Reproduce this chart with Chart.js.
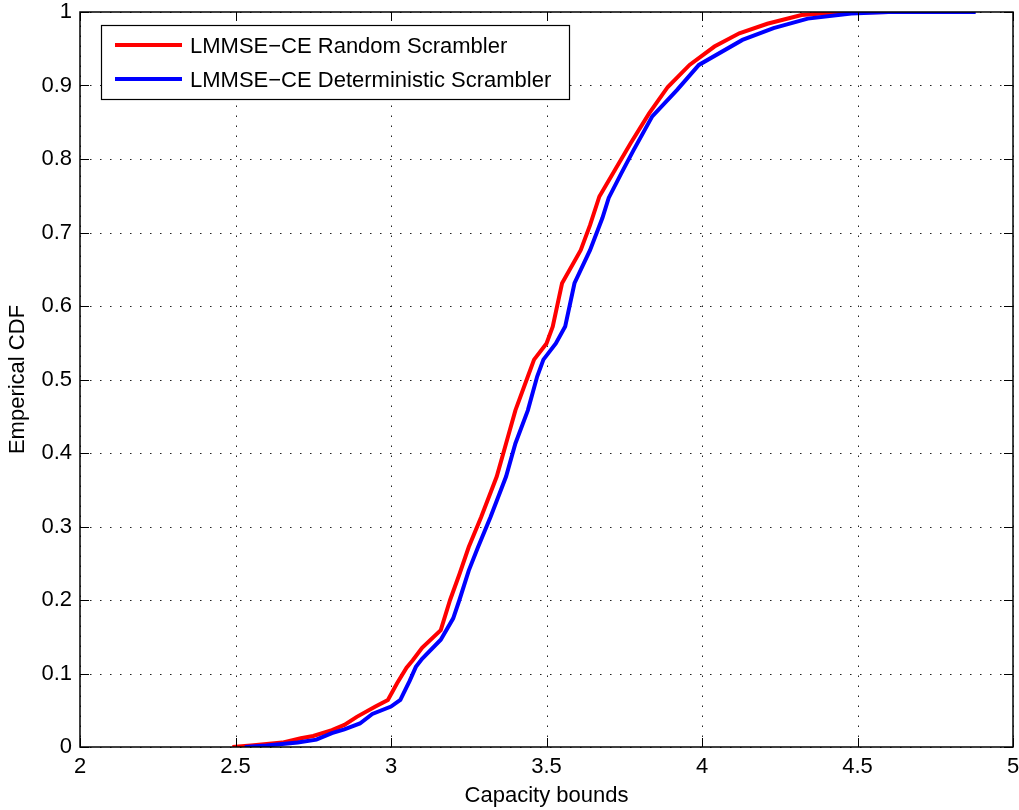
<!DOCTYPE html>
<html>
<head>
<meta charset="utf-8">
<script src="https://cdn.jsdelivr.net/npm/chart.js@4"></script>
<style>
    html, body { margin: 0; padding: 0; background: #fff; }
    #wrap { width: 1019px; height: 810px; }
</style>
</head>
<body>
<div id="wrap"><canvas id="cdfChart" width="1019" height="810"></canvas></div>
<script>
// values
const randomCap = [2.49, 2.55, 2.65, 2.71, 2.75, 2.81, 2.85, 2.89, 2.95, 2.99, 3.02, 3.05, 3.07, 3.1, 3.16, 3.19, 3.22, 3.25, 3.29, 3.34, 3.37, 3.4, 3.44, 3.46, 3.5, 3.52, 3.55, 3.61, 3.64, 3.67, 3.72, 3.77, 3.83, 3.89, 3.96, 4.04, 4.12, 4.21, 4.32, 4.42, 4.6, 4.87];
const randomCdf = [0, 0.002, 0.006, 0.012, 0.015, 0.023, 0.03, 0.041, 0.055, 0.064, 0.087, 0.108, 0.118, 0.135, 0.159, 0.2, 0.235, 0.272, 0.313, 0.368, 0.413, 0.458, 0.504, 0.527, 0.549, 0.572, 0.631, 0.676, 0.71, 0.749, 0.785, 0.821, 0.862, 0.898, 0.928, 0.953, 0.971, 0.984, 0.996, 0.999, 1, 1];

const determCap = [2.53, 2.6, 2.7, 2.76, 2.81, 2.85, 2.9, 2.94, 3.0, 3.03, 3.06, 3.08, 3.1, 3.16, 3.2, 3.22, 3.25, 3.28, 3.32, 3.37, 3.4, 3.44, 3.47, 3.49, 3.53, 3.56, 3.59, 3.64, 3.68, 3.7, 3.74, 3.78, 3.84, 3.92, 3.99, 4.13, 4.23, 4.34, 4.48, 4.6, 4.88];
const determCdf = [0, 0.002, 0.006, 0.01, 0.019, 0.024, 0.032, 0.045, 0.055, 0.064, 0.09, 0.109, 0.12, 0.146, 0.175, 0.2, 0.24, 0.272, 0.313, 0.368, 0.413, 0.458, 0.504, 0.527, 0.549, 0.572, 0.631, 0.676, 0.72, 0.747, 0.78, 0.812, 0.858, 0.894, 0.928, 0.962, 0.978, 0.991, 0.998, 1, 1];

const seriesNames = ['LMMSE\u2212CE Random Scrambler', 'LMMSE\u2212CE Deterministic Scrambler'];
const xTicks = [2, 2.5, 3, 3.5, 4, 4.5, 5];
const yTicks = [0, 0.1, 0.2, 0.3, 0.4, 0.5, 0.6, 0.7, 0.8, 0.9, 1];

const FONT = '"Liberation Sans", Arial, Helvetica, sans-serif';

const toPoints = (xs, ys) => xs.map((x, i) => ({ x: x, y: ys[i] }));

// matlab style box: dotted grid, inward ticks, frame
const matlabAxes = {
    id: 'matlabAxes',
    beforeDatasetsDraw(chart) {
        const { ctx, chartArea: a, scales } = chart;
        ctx.save();
        ctx.strokeStyle = '#222';
        ctx.lineWidth = 1;
        ctx.setLineDash([1.5, 8.5]);
        xTicks.forEach((v) => {
            const px = Math.round(scales.x.getPixelForValue(v)) + 0.5;
            ctx.beginPath();
            ctx.moveTo(px, a.bottom);
            ctx.lineTo(px, a.top);
            ctx.stroke();
        });
        yTicks.forEach((v) => {
            const py = Math.round(scales.y.getPixelForValue(v)) + 0.5;
            ctx.beginPath();
            ctx.moveTo(a.left, py);
            ctx.lineTo(a.right, py);
            ctx.stroke();
        });
        ctx.restore();
    },
    afterDatasetsDraw(chart) {
        const { ctx, chartArea: a, scales } = chart;
        const len = 9;
        ctx.save();
        ctx.strokeStyle = '#000';
        ctx.lineWidth = 1;
        xTicks.forEach((v) => {
            const px = Math.round(scales.x.getPixelForValue(v)) + 0.5;
            ctx.beginPath();
            ctx.moveTo(px, a.bottom);
            ctx.lineTo(px, a.bottom - len);
            ctx.moveTo(px, a.top);
            ctx.lineTo(px, a.top + len);
            ctx.stroke();
        });
        yTicks.forEach((v) => {
            const py = Math.round(scales.y.getPixelForValue(v)) + 0.5;
            ctx.beginPath();
            ctx.moveTo(a.left, py);
            ctx.lineTo(a.left + len, py);
            ctx.moveTo(a.right, py);
            ctx.lineTo(a.right - len, py);
            ctx.stroke();
        });
        ctx.lineWidth = 1.5;
        ctx.strokeRect(a.left, a.top, a.right - a.left, a.bottom - a.top);
        ctx.restore();
    },
};

// legend box in the upper left corner
const boxLegend = {
    id: 'boxLegend',
    afterDraw(chart) {
        const { ctx, chartArea: a } = chart;
        const x0 = a.left + 21;
        const y0 = a.top + 13;
        const w = 468;
        const h = 74;
        ctx.save();
        ctx.fillStyle = '#fff';
        ctx.fillRect(x0, y0, w, h);
        ctx.strokeStyle = '#000';
        ctx.lineWidth = 1.2;
        ctx.strokeRect(x0 + 0.5, y0 + 0.5, w, h);
        ctx.font = '22px ' + FONT;
        ctx.textBaseline = 'middle';
        chart.data.datasets.forEach((ds, i) => {
            const yy = y0 + 20 + i * 34;
            ctx.strokeStyle = ds.borderColor;
            ctx.lineWidth = 4;
            ctx.beginPath();
            ctx.moveTo(x0 + 14, yy);
            ctx.lineTo(x0 + 81, yy);
            ctx.stroke();
            ctx.fillStyle = '#000';
            ctx.fillText(ds.label, x0 + 89, yy + 2);
        });
        ctx.restore();
    },
};

const config = {
    type: 'scatter',
    data: {
        datasets: [
            {
                label: seriesNames[0],
                data: toPoints(randomCap, randomCdf),
                borderColor: '#ff0000',
                backgroundColor: '#ff0000',
                showLine: true,
                borderWidth: 4,
                pointRadius: 0,
                tension: 0,
                order: 1,
            },
            {
                label: seriesNames[1],
                data: toPoints(determCap, determCdf),
                borderColor: '#0000ff',
                backgroundColor: '#0000ff',
                showLine: true,
                borderWidth: 4,
                pointRadius: 0,
                tension: 0,
                order: 0,
            },
        ],
    },
    options: {
        responsive: false,
        animation: false,
        layout: { padding: { top: 12, right: 6, left: 0, bottom: 0 } },
        plugins: {
            legend: { display: false },
            tooltip: { enabled: false },
        },
        scales: {
            x: {
                type: 'linear',
                min: 2,
                max: 5,
                afterBuildTicks: (scale) => { scale.ticks = xTicks.map((v) => ({ value: v })); },
                afterFit: (scale) => {
                    scale.height = 63;
                    scale.paddingLeft = 0;
                    scale.paddingRight = 0;
                },
                grid: { display: false, drawTicks: false },
                border: { display: false },
                ticks: {
                    color: '#000',
                    padding: 9,
                    maxRotation: 0,
                    font: { family: FONT, size: 22, lineHeight: 1 },
                    callback: (v) => String(v),
                },
                title: {
                    display: true,
                    text: 'Capacity bounds',
                    color: '#000',
                    font: { family: FONT, size: 22, lineHeight: 1 },
                    padding: { top: 0, bottom: 3 },
                },
            },
            y: {
                type: 'linear',
                min: 0,
                max: 1,
                afterBuildTicks: (scale) => { scale.ticks = yTicks.map((v) => ({ value: v })); },
                afterFit: (scale) => {
                    scale.width = 80;
                    scale.paddingTop = 0;
                    scale.paddingBottom = 0;
                },
                grid: { display: false, drawTicks: false },
                border: { display: false },
                ticks: {
                    color: '#000',
                    padding: 8,
                    font: { family: FONT, size: 22, lineHeight: 1 },
                    callback: (v) => String(v),
                },
                title: {
                    display: true,
                    text: 'Emperical CDF',
                    color: '#000',
                    font: { family: FONT, size: 22, lineHeight: 1 },
                    padding: { top: 7, bottom: 0 },
                },
            },
        },
    },
    plugins: [matlabAxes, boxLegend],
};

const myChart = new Chart(document.getElementById('cdfChart'), config);
</script>
</body>
</html>
